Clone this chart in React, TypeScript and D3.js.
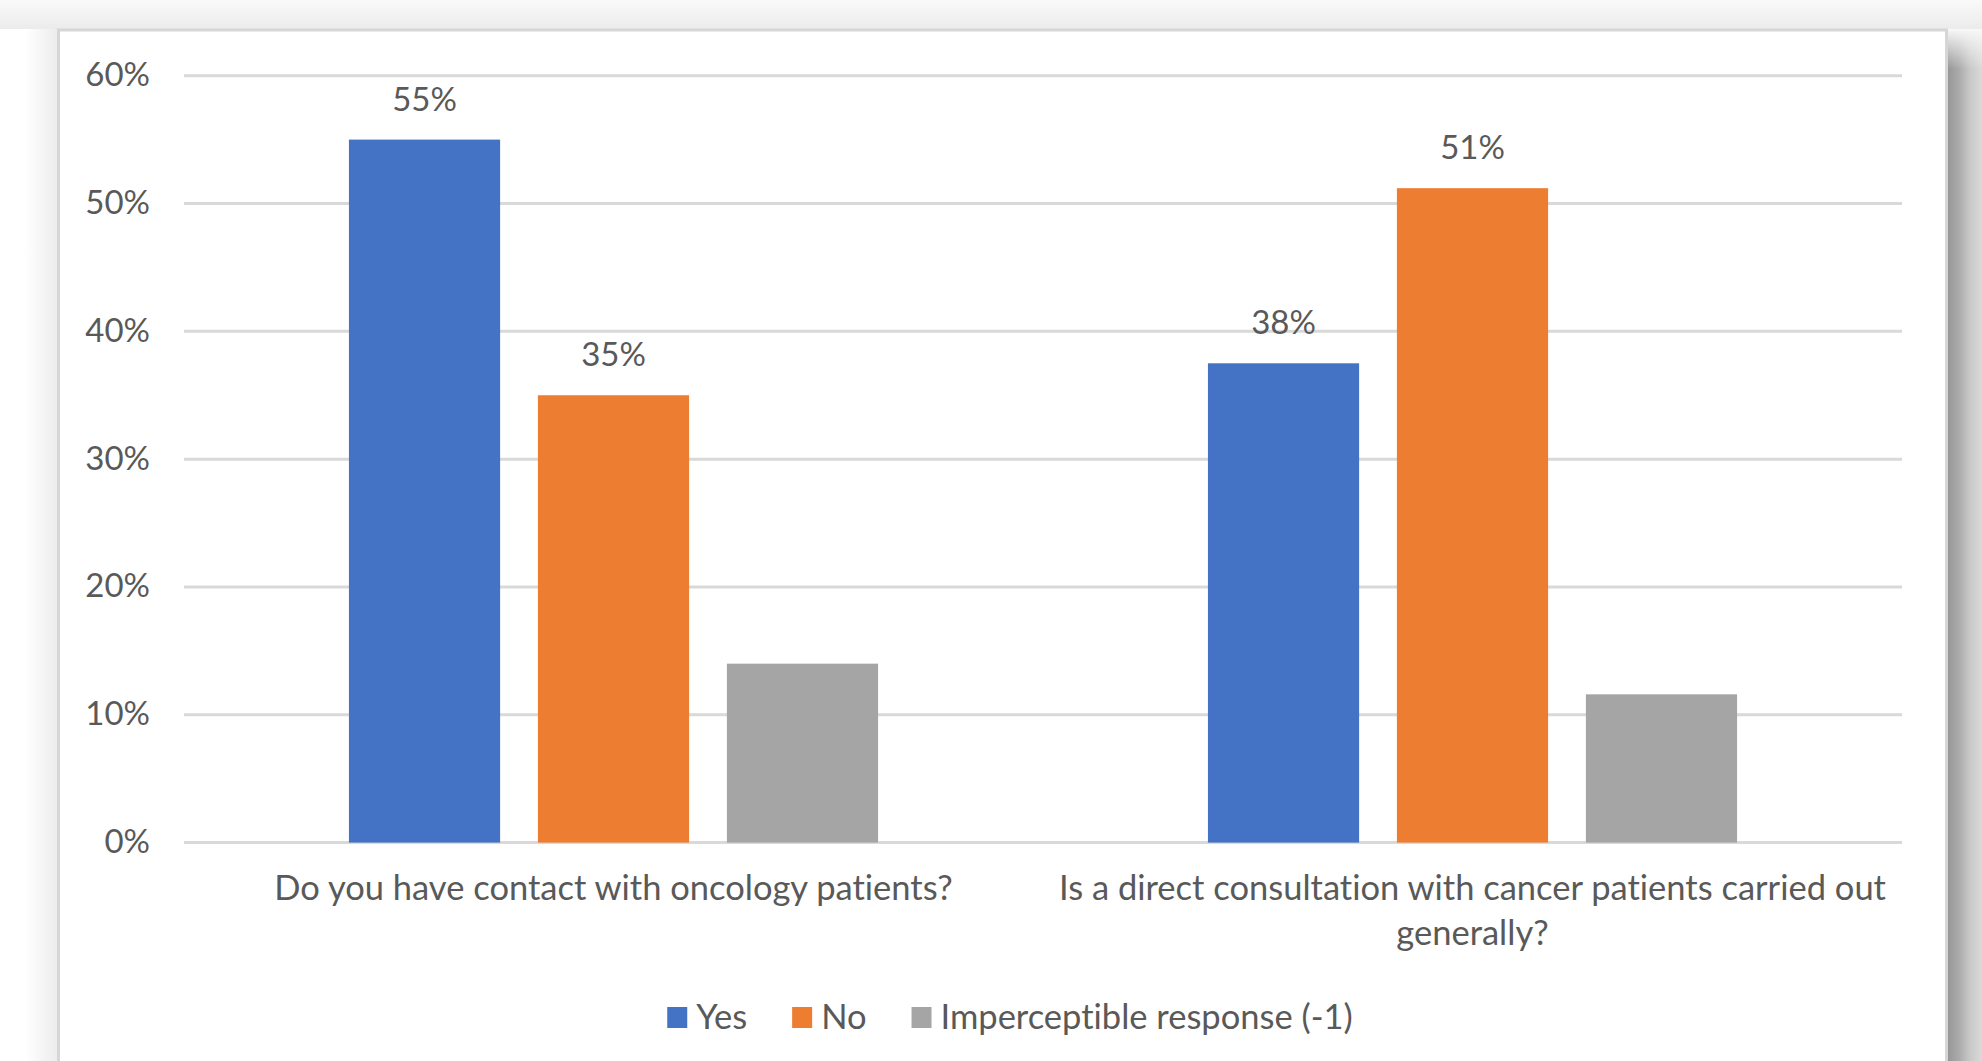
import React, { useEffect, useRef } from 'react';
import * as d3 from 'd3';

const categories = [
  'Do you have contact with oncology patients?',
  'Is a direct consultation with cancer patients carried out generally?',
];
const categoryLines = [
  ['Do you have contact with oncology patients?'],
  ['Is a direct consultation with cancer patients carried out', 'generally?'],
];
const seriesNames = ['Yes', 'No', 'Imperceptible response (-1)'];
const yesValues = [0.55, 0.375];
const noValues = [0.35, 0.512];
const imperceptibleValues = [0.14, 0.116];
const yTicks = [0, 0.1, 0.2, 0.3, 0.4, 0.5, 0.6];
const seriesColors = ['#4472C4', '#ED7D31', '#A5A5A5'];
const showLabels = [true, true, false];

const W = 1982;
const H = 1061;
const FONT = 'Lato, "Open Sans", sans-serif';
const TEXT = '#595959';

export default function App() {
  const ref = useRef<SVGSVGElement>(null);

  useEffect(() => {
    document.body.style.margin = '0';
    const svg = d3.select(ref.current);
    svg.selectAll('*').remove();
    svg.style('font-variant-ligatures', 'none');

    const defs = svg.append('defs');
    const gRight = defs.append('linearGradient').attr('id', 'shRight').attr('x1', 0).attr('x2', 1).attr('y1', 0).attr('y2', 0);
    gRight.append('stop').attr('offset', 0).attr('stop-color', '#959595');
    gRight.append('stop').attr('offset', 0.35).attr('stop-color', '#ababab');
    gRight.append('stop').attr('offset', 0.65).attr('stop-color', '#c8c8c8');
    gRight.append('stop').attr('offset', 1).attr('stop-color', '#dadada');
    const gRightTop = defs.append('linearGradient').attr('id', 'shRightTop').attr('x1', 0).attr('x2', 0).attr('y1', 0).attr('y2', 1);
    gRightTop.append('stop').attr('offset', 0).attr('stop-color', '#f8f8f8').attr('stop-opacity', 1);
    gRightTop.append('stop').attr('offset', 1).attr('stop-color', '#f8f8f8').attr('stop-opacity', 0);
    const gTop = defs.append('linearGradient').attr('id', 'shTop').attr('x1', 0).attr('x2', 0).attr('y1', 0).attr('y2', 1);
    gTop.append('stop').attr('offset', 0).attr('stop-color', '#fafafa');
    gTop.append('stop').attr('offset', 1).attr('stop-color', '#ebebeb');
    const gLeft = defs.append('linearGradient').attr('id', 'shLeft').attr('x1', 0).attr('x2', 1).attr('y1', 0).attr('y2', 0);
    gLeft.append('stop').attr('offset', 0).attr('stop-color', '#ffffff');
    gLeft.append('stop').attr('offset', 1).attr('stop-color', '#ececec');

    svg.append('rect').attr('width', W).attr('height', H).attr('fill', '#ffffff');
    // shadows
    svg.append('rect').attr('x', 0).attr('y', 0).attr('width', W).attr('height', 29).attr('fill', 'url(#shTop)');
    svg.append('rect').attr('x', 25).attr('y', 29).attr('width', 33).attr('height', H).attr('fill', 'url(#shLeft)');
    svg.append('rect').attr('x', 1947).attr('y', 29).attr('width', 35).attr('height', H).attr('fill', 'url(#shRight)');
    svg.append('rect').attr('x', 1947).attr('y', 29).attr('width', 35).attr('height', 40).attr('fill', 'url(#shRightTop)');

    // frame
    svg.append('rect').attr('x', 58.5).attr('y', 30).attr('width', 1888).attr('height', H + 20)
      .attr('fill', '#ffffff').attr('stroke', '#d6d6d6').attr('stroke-width', 3);

    const y = d3.scaleLinear().domain([0, 0.6]).range([842.6, 75.7]);
    const x0 = d3.scaleBand<string>().domain(categories).range([184, 1902]);
    const bw = x0.bandwidth();
    const x1 = d3.scaleBand<string>().domain(seriesNames).range([bw * 0.192, bw * 0.808]).paddingInner(0.2);
    const fmt = d3.format('.0%');
    const series = [yesValues, noValues, imperceptibleValues];

    // gridlines
    const grid = svg.append('g');
    grid.selectAll('line').data(yTicks).join('line')
      .attr('x1', 184).attr('x2', 1902)
      .attr('y1', (d) => y(d)).attr('y2', (d) => y(d))
      .attr('stroke', '#d9d9d9').attr('stroke-width', 3);
    grid.selectAll('text').data(yTicks).join('text')
      .attr('x', 150).attr('y', (d) => y(d) - 2.5)
      .attr('text-anchor', 'end').attr('dominant-baseline', 'central')
      .attr('font-family', FONT).attr('font-size', 33).attr('fill', TEXT)
      .text((d) => fmt(d));

    // bars
    const bars = svg.append('g');
    series.forEach((vals, si) => {
      const g = bars.append('g');
      g.selectAll('rect').data(vals).join('rect')
        .attr('x', (_, i) => (x0(categories[i]) as number) + (x1(seriesNames[si]) as number))
        .attr('width', x1.bandwidth())
        .attr('y', (d) => y(d))
        .attr('height', (d) => y(0) - y(d))
        .attr('fill', seriesColors[si]);
      if (showLabels[si]) {
        g.selectAll('text').data(vals).join('text')
          .attr('x', (_, i) => (x0(categories[i]) as number) + (x1(seriesNames[si]) as number) + x1.bandwidth() / 2)
          .attr('y', (d) => y(d) - 42)
          .attr('text-anchor', 'middle').attr('dominant-baseline', 'central')
          .attr('font-family', FONT).attr('font-size', 33).attr('fill', TEXT)
          .text((d) => fmt(d));
      }
    });

    // category labels
    const cat = svg.append('g');
    categoryLines.forEach((lines, ci) => {
      const cx = (x0(categories[ci]) as number) + bw / 2;
      lines.forEach((ln, li) => {
        cat.append('text')
          .attr('x', cx).attr('y', 886 + li * 45)
          .attr('text-anchor', 'middle').attr('dominant-baseline', 'central')
          .attr('font-family', FONT).attr('font-size', 34.5).attr('fill', TEXT)
          .text(ln);
      });
    });

    // legend
    const leg = svg.append('g');
    const items = seriesNames.map((name, i) => {
      const g = leg.append('g');
      g.append('rect').attr('x', 0).attr('y', -8).attr('width', 20).attr('height', 21).attr('fill', seriesColors[i]);
      const t = g.append('text').attr('x', 29).attr('y', 0)
        .attr('dominant-baseline', 'central')
        .attr('font-family', FONT).attr('font-size', 34.5).attr('fill', TEXT)
        .text(name);
      const w = (t.node() as SVGTextElement).getComputedTextLength();
      return { g, w: 29 + w };
    });
    const gap = 45;
    const total = d3.sum(items, (d) => d.w) + gap * (items.length - 1);
    let cx = 1010 - total / 2;
    items.forEach((it) => {
      it.g.attr('transform', `translate(${cx},1015)`);
      cx += it.w + gap;
    });
  }, []);

  return (
    <div style={{ position: 'absolute', left: 0, top: 0 }}>
      <svg ref={ref} width={W} height={H} style={{ display: 'block' }} />
    </div>
  );
}
